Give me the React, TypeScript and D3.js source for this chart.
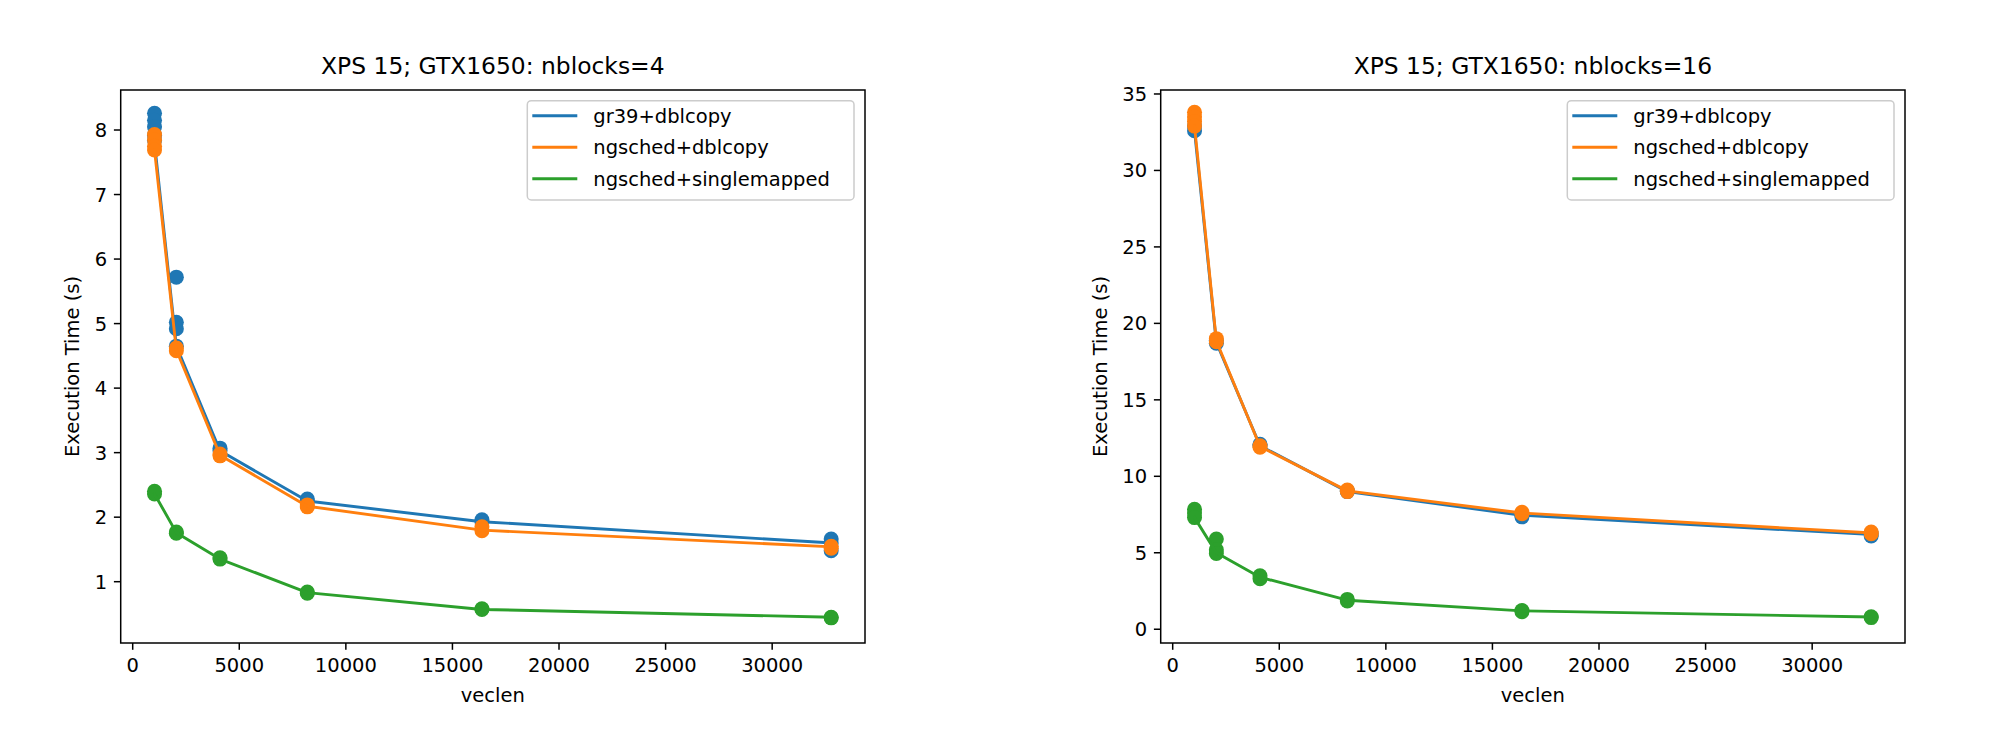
import React from "react";
import * as d3 from "d3";

// ---------- data ----------
const VECLEN = [1024, 2048, 4096, 8192, 16384, 32768];
const SERIES_NAMES = ["gr39+dblcopy", "ngsched+dblcopy", "ngsched+singlemapped"];
const SERIES_COLORS = ["#1f77b4", "#ff7f0e", "#2ca02c"];

const X_TICKS = [0, 5000, 10000, 15000, 20000, 25000, 30000];
const Y_TICKS_NB4 = [1, 2, 3, 4, 5, 6, 7, 8];
const Y_TICKS_NB16 = [0, 5, 10, 15, 20, 25, 30, 35];

// nblocks = 4 : individual runs per veclen, and line values
const NB4_GR39_RUNS = [
  [8.26, 8.15, 8.05, 7.92, 7.84],
  [5.72, 5.02, 4.92, 4.65],
  [3.07, 3.03],
  [2.28, 2.25],
  [1.96, 1.93],
  [1.66, 1.6, 1.48],
];
const NB4_GR39_LINE = [7.8, 4.65, 3.03, 2.25, 1.93, 1.6];
const NB4_NGDBL_RUNS = [
  [7.93, 7.85, 7.75, 7.69],
  [4.62, 4.58],
  [2.98, 2.95],
  [2.19, 2.16],
  [1.85, 1.79],
  [1.55, 1.52],
];
const NB4_NGDBL_LINE = [7.69, 4.59, 2.96, 2.17, 1.8, 1.54];
const NB4_NGSM_RUNS = [
  [2.4, 2.36],
  [1.77, 1.75],
  [1.37, 1.35],
  [0.84, 0.82],
  [0.58, 0.57],
  [0.45, 0.44],
];
const NB4_NGSM_LINE = [2.36, 1.76, 1.35, 0.83, 0.57, 0.45];

// nblocks = 16
const NB16_GR39_RUNS = [
  [32.9, 32.6],
  [18.9, 18.7],
  [12.1, 12.0],
  [9.05, 9.0],
  [7.45, 7.35],
  [6.25, 6.1],
];
const NB16_GR39_LINE = [32.6, 18.75, 12.0, 9.0, 7.45, 6.2];
const NB16_NGDBL_RUNS = [
  [33.8, 33.5, 33.2, 32.9],
  [19.0, 18.8],
  [12.0, 11.9],
  [9.1, 9.0],
  [7.65, 7.55],
  [6.35, 6.25],
];
const NB16_NGDBL_LINE = [32.9, 18.85, 11.95, 9.05, 7.6, 6.3];
const NB16_NGSM_RUNS = [
  [7.85, 7.6, 7.3],
  [5.9, 5.2, 4.95],
  [3.5, 3.3],
  [1.95, 1.85],
  [1.22, 1.15],
  [0.82, 0.76],
];
const NB16_NGSM_LINE = [7.3, 5.0, 3.4, 1.9, 1.2, 0.8];

const PANELS = [
  {
    title: "XPS 15; GTX1650: nblocks=4",
    runs: [NB4_GR39_RUNS, NB4_NGDBL_RUNS, NB4_NGSM_RUNS],
    lines: [NB4_GR39_LINE, NB4_NGDBL_LINE, NB4_NGSM_LINE],
    yTicks: Y_TICKS_NB4,
    yDomain: [0.05, 8.62],
    left: 120.7,
    ylabelX: 72,
  },
  {
    title: "XPS 15; GTX1650: nblocks=16",
    runs: [NB16_GR39_RUNS, NB16_NGDBL_RUNS, NB16_NGSM_RUNS],
    lines: [NB16_GR39_LINE, NB16_NGDBL_LINE, NB16_NGSM_LINE],
    yTicks: Y_TICKS_NB16,
    yDomain: [-0.9, 35.26],
    left: 1160.7,
    ylabelX: 1100,
  },
];

const FONT = "'DejaVu Sans', sans-serif";
const TICK_FS = 19.5;
const TITLE_FS = 23.4;
const AX_W = 744.3;
const AX_TOP = 90;
const AX_BOTTOM = 643;

function Panel({ p }: { p: any }) {
  const x = d3.scaleLinear().domain([-563, 34355]).range([p.left, p.left + AX_W]);
  const y = d3.scaleLinear().domain(p.yDomain).range([AX_BOTTOM, AX_TOP]);
  const right = p.left + AX_W;
  const line = d3
    .line<number>()
    .x((_, i) => x(VECLEN[i]))
    .y((d) => y(d));
  const tickLen = 6.8;
  const legW = 326.7;
  const rowY = [AX_TOP + 25.7, AX_TOP + 57.2, AX_TOP + 88.7];
  return (
    <g>
      <defs>
        <clipPath id={`clip-${p.left}`}>
          <rect x={p.left} y={AX_TOP} width={AX_W} height={AX_BOTTOM - AX_TOP} />
        </clipPath>
      </defs>
      <g clipPath={`url(#clip-${p.left})`}>
        {SERIES_NAMES.map((name, si) => (
          <g key={name}>
            {p.runs[si].map((vals: number[], xi: number) =>
              vals.map((v: number, k: number) => (
                <circle key={`${xi}-${k}`} cx={x(VECLEN[xi])} cy={y(v)} r={7.5} fill={SERIES_COLORS[si]} />
              ))
            )}
            <path d={line(p.lines[si]) || ""} fill="none" stroke={SERIES_COLORS[si]} strokeWidth={2.9} strokeLinejoin="round" strokeLinecap="square" />
          </g>
        ))}
      </g>
      {/* frame */}
      <rect x={p.left} y={AX_TOP} width={AX_W} height={AX_BOTTOM - AX_TOP} fill="none" stroke="#000" strokeWidth={1.5} />
      {/* x ticks */}
      {X_TICKS.map((t) => (
        <g key={t}>
          <line x1={x(t)} x2={x(t)} y1={AX_BOTTOM} y2={AX_BOTTOM + tickLen} stroke="#000" strokeWidth={1.5} />
          <text x={x(t)} y={AX_BOTTOM + tickLen + 6.8 + 15} textAnchor="middle" fontSize={TICK_FS} fontFamily={FONT} fill="#000">
            {t}
          </text>
        </g>
      ))}
      {/* y ticks */}
      {p.yTicks.map((t: number) => (
        <g key={t}>
          <line x1={p.left - tickLen} x2={p.left} y1={y(t)} y2={y(t)} stroke="#000" strokeWidth={1.5} />
          <text x={p.left - tickLen - 6.8} y={y(t) + 7} textAnchor="end" fontSize={TICK_FS} fontFamily={FONT} fill="#000">
            {t}
          </text>
        </g>
      ))}
      {/* labels */}
      <text x={(p.left + right) / 2} y={702} textAnchor="middle" fontSize={TICK_FS} fontFamily={FONT} fill="#000">
        veclen
      </text>
      <text
        transform={`translate(${p.ylabelX},${(AX_TOP + AX_BOTTOM) / 2}) rotate(-90)`}
        y={7}
        textAnchor="middle"
        fontSize={TICK_FS}
        fontFamily={FONT}
        fill="#000"
      >
        Execution Time (s)
      </text>
      <text x={(p.left + right) / 2} y={74} textAnchor="middle" fontSize={TITLE_FS} fontFamily={FONT} fill="#000">
        {p.title}
      </text>
      {/* legend */}
      <rect x={right - 337.7} y={AX_TOP + 10.7} width={legW} height={99.3} rx={4} ry={4} fill="#fff" fillOpacity={0.8} stroke="#cccccc" strokeWidth={1.5} />
      {SERIES_NAMES.map((name, si) => (
        <g key={name}>
          <line x1={right - 332.7} x2={right - 287.7} y1={rowY[si]} y2={rowY[si]} stroke={SERIES_COLORS[si]} strokeWidth={2.9} />
          <text x={right - 271.7} y={rowY[si] + 7} fontSize={TICK_FS} fontFamily={FONT} fill="#000">
            {name}
          </text>
        </g>
      ))}
    </g>
  );
}

export default function App() {
  return (
    <svg
      width={2000}
      height={739}
      style={{ position: "absolute", left: 0, top: 0, background: "#fff" }}
    >
      <rect x={0} y={0} width={2000} height={739} fill="#fff" />
      {PANELS.map((p) => (
        <Panel key={p.title} p={p} />
      ))}
    </svg>
  );
}
